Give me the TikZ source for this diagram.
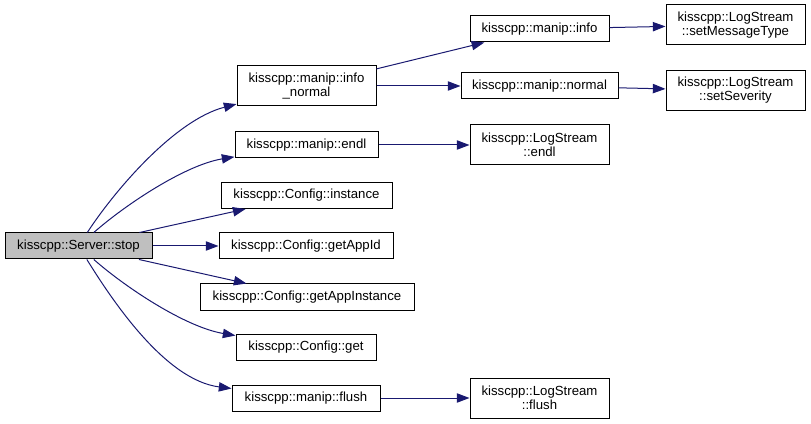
\documentclass[tikz,border=0pt]{standalone}
\usepackage{fontspec}
\setmainfont{Liberation Sans}
\usetikzlibrary{arrows.meta}
\definecolor{edgeblue}{HTML}{191970}
\definecolor{graybox}{HTML}{BFBFBF}
\begin{document}
\begin{tikzpicture}[x=0.75pt,y=-0.75pt,
  box/.style={draw=black,line width=0.75pt,fill=white,rectangle,inner sep=0pt,
    align=center,font=\fontsize{9.9}{10.5}\selectfont},
  edge/.style={draw=edgeblue,line width=0.75pt,-{Triangle[length=9.5pt,width=7pt]}}]
\useasboundingbox (0,0) rectangle (811,424);
% nodes
\node[box,fill=graybox,minimum width=147*0.75pt,minimum height=26*0.75pt] (stop) at (78.5,246) {kisscpp::Server::stop};
\node[box,minimum width=139*0.75pt,minimum height=40*0.75pt] (infonormal) at (306.5,86) {kisscpp::manip::info\\\_normal};
\node[box,minimum width=143*0.75pt,minimum height=26*0.75pt] (mendl) at (306.5,145) {kisscpp::manip::endl};
\node[box,minimum width=171*0.75pt,minimum height=26*0.75pt] (instance) at (306.5,195.5) {kisscpp::Config::instance};
\node[box,minimum width=174*0.75pt,minimum height=26*0.75pt] (appid) at (306,246) {kisscpp::Config::getAppId};
\node[box,minimum width=214*0.75pt,minimum height=26*0.75pt] (appinst) at (307,297) {kisscpp::Config::getAppInstance};
\node[box,minimum width=140*0.75pt,minimum height=26*0.75pt] (get) at (306,347.5) {kisscpp::Config::get};
\node[box,minimum width=148*0.75pt,minimum height=26*0.75pt] (mflush) at (306,398) {kisscpp::manip::flush};
\node[box,minimum width=139*0.75pt,minimum height=26*0.75pt] (minfo) at (539.5,29) {kisscpp::manip::info};
\node[box,minimum width=157*0.75pt,minimum height=26*0.75pt] (mnormal) at (539.5,86) {kisscpp::manip::normal};
\node[box,minimum width=139*0.75pt,minimum height=40*0.75pt] (lsendl) at (539.5,145) {kisscpp::LogStream\\::endl};
\node[box,minimum width=139*0.75pt,minimum height=40*0.75pt] (lsflush) at (539.5,398) {kisscpp::LogStream\\::flush};
\node[box,minimum width=139*0.75pt,minimum height=40*0.75pt] (setmt) at (735.5,25) {kisscpp::LogStream\\::setMessageType};
\node[box,minimum width=139*0.75pt,minimum height=40*0.75pt] (setsev) at (735.5,90.5) {kisscpp::LogStream\\::setSeverity};
% edges
\draw[edge] (stop) .. controls (115,190) and (175,120) .. (infonormal);
\draw[edge] (stop) .. controls (125,205) and (185,165) .. (mendl);
\draw[edge] (stop) -- (instance);
\draw[edge] (stop) -- (appid);
\draw[edge] (stop) -- (appinst);
\draw[edge] (stop) .. controls (125,287) and (185,327) .. (get);
\draw[edge] (stop) .. controls (112,300) and (165,380) .. (mflush);
\draw[edge] (infonormal) -- (minfo);
\draw[edge] (infonormal) -- (mnormal);
\draw[edge] (mendl) -- (lsendl);
\draw[edge] (mflush) -- (lsflush);
\draw[edge] (minfo) -- (setmt);
\draw[edge] (mnormal) -- (setsev);
\end{tikzpicture}
\end{document}
